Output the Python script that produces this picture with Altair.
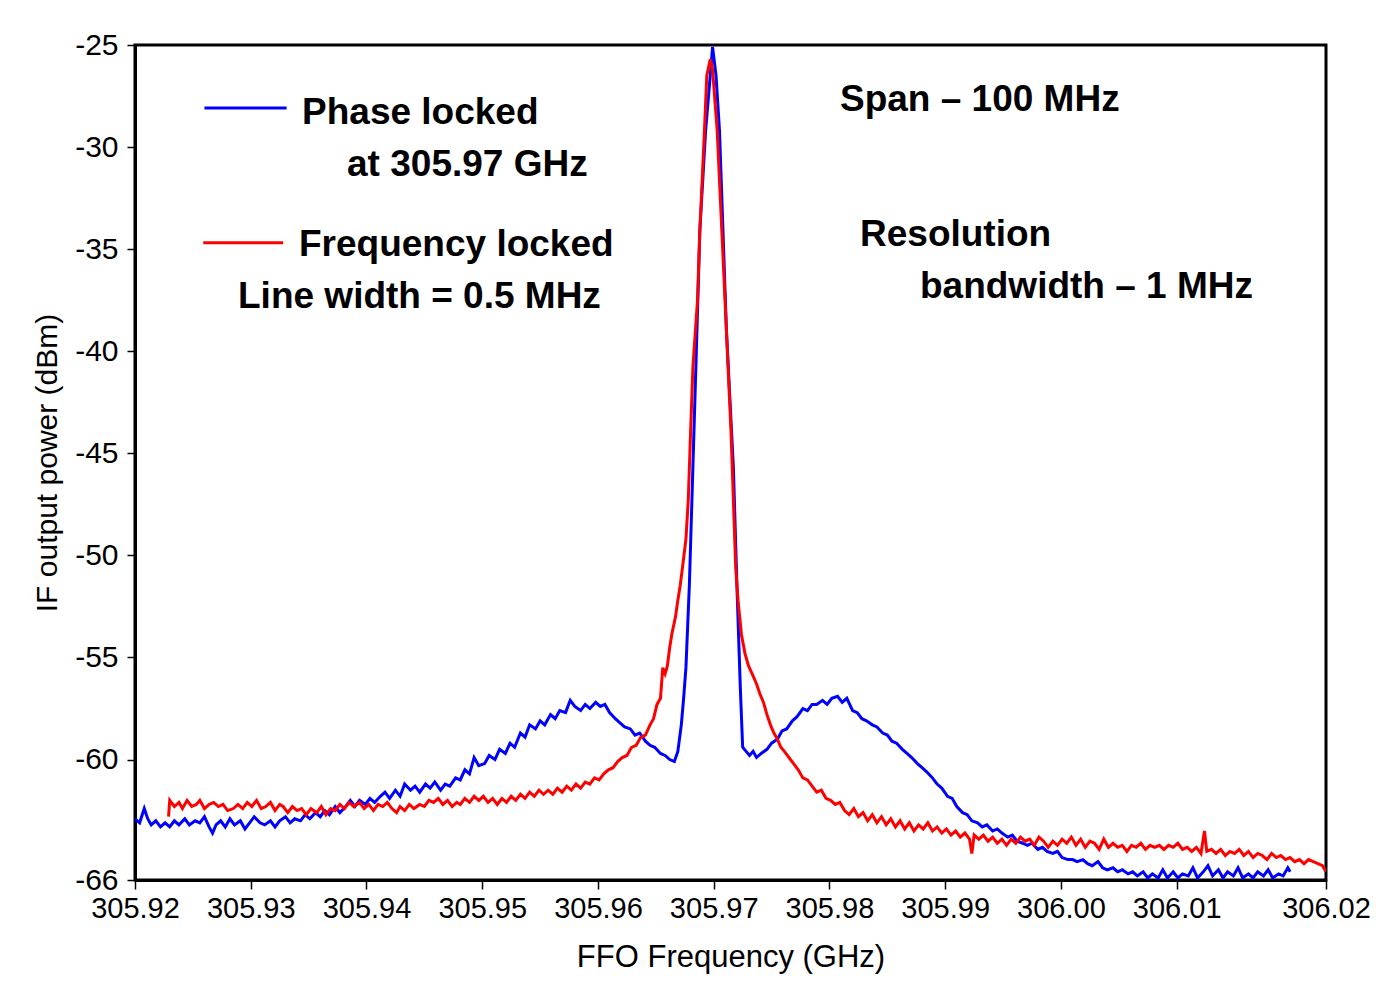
import altair as alt
import pandas as pd

# ---- Phase locked (blue) trace: frequency (GHz), power (dBm)
blue_f = [305.9200, 305.9204, 305.9208, 305.9211, 305.9214, 305.9218, 305.9222, 305.9226, 305.9230, 305.9234,
          305.9238, 305.9243, 305.9247, 305.9252, 305.9256, 305.9260, 305.9264, 305.9267, 305.9270, 305.9274,
          305.9278, 305.9282, 305.9286, 305.9291, 305.9295, 305.9299, 305.9303, 305.9308, 305.9312, 305.9317,
          305.9321, 305.9325, 305.9330, 305.9334, 305.9338, 305.9343, 305.9347, 305.9351, 305.9356, 305.9360,
          305.9364, 305.9368, 305.9373, 305.9377, 305.9382, 305.9386, 305.9390, 305.9394, 305.9399, 305.9403,
          305.9407, 305.9412, 305.9416, 305.9420, 305.9425, 305.9429, 305.9433, 305.9438, 305.9442, 305.9446,
          305.9451, 305.9455, 305.9459, 305.9464, 305.9468, 305.9472, 305.9477, 305.9481, 305.9485, 305.9489,
          305.9493, 305.9497, 305.9502, 305.9506, 305.9511, 305.9515, 305.9520, 305.9524, 305.9528, 305.9533,
          305.9537, 305.9541, 305.9546, 305.9550, 305.9554, 305.9559, 305.9563, 305.9567, 305.9572, 305.9576,
          305.9580, 305.9585, 305.9589, 305.9593, 305.9598, 305.9602, 305.9606, 305.9610, 305.9615, 305.9619,
          305.9623, 305.9628, 305.9632, 305.9636, 305.9641, 305.9645, 305.9649, 305.9654, 305.9658, 305.9662,
          305.9666, 305.9669, 305.9672, 305.9674, 305.9676, 305.9679, 305.9682, 305.9685, 305.9688, 305.9693,
          305.9697, 305.9699, 305.9702, 305.9705, 305.9708, 305.9711, 305.9717, 305.9720, 305.9723, 305.9725,
          305.9728, 305.9731, 305.9734, 305.9737, 305.9741, 305.9746, 305.9750, 305.9755, 305.9759, 305.9763,
          305.9768, 305.9772, 305.9777, 305.9781, 305.9785, 305.9789, 305.9794, 305.9798, 305.9802, 305.9807,
          305.9811, 305.9815, 305.9820, 305.9824, 305.9828, 305.9832, 305.9837, 305.9841, 305.9846, 305.9850,
          305.9854, 305.9858, 305.9863, 305.9867, 305.9871, 305.9876, 305.9880, 305.9884, 305.9889, 305.9893,
          305.9897, 305.9902, 305.9906, 305.9910, 305.9915, 305.9919, 305.9923, 305.9928, 305.9932, 305.9936,
          305.9941, 305.9945, 305.9949, 305.9954, 305.9958, 305.9962, 305.9967, 305.9971, 305.9975, 305.9980,
          305.9984, 305.9988, 305.9993, 305.9997, 306.0001, 306.0006, 306.0010, 306.0014, 306.0019, 306.0023,
          306.0027, 306.0032, 306.0036, 306.0040, 306.0045, 306.0049, 306.0053, 306.0058, 306.0062, 306.0066,
          306.0071, 306.0075, 306.0079, 306.0084, 306.0088, 306.0092, 306.0097, 306.0101, 306.0105, 306.0110,
          306.0114, 306.0118, 306.0123, 306.0127, 306.0131, 306.0136, 306.0140, 306.0144, 306.0149, 306.0153,
          306.0157, 306.0162, 306.0166, 306.0170, 306.0175, 306.0179, 306.0183, 306.0188, 306.0192, 306.0196,
          306.0198]
blue_p = [-62.9, -63.1, -62.4, -62.9, -63.2, -63.0, -63.3, -63.1, -63.3, -63.0,
          -63.2, -62.9, -63.2, -63.0, -63.1, -62.8, -63.3, -63.6, -63.2, -63.0,
          -63.3, -62.9, -63.2, -63.0, -63.4, -63.1, -62.8, -63.1, -63.2, -63.0,
          -63.3, -63.0, -62.8, -63.1, -62.9, -63.0, -62.7, -62.9, -62.6, -62.8,
          -62.5, -62.7, -62.3, -62.6, -62.3, -62.0, -62.3, -62.0, -62.2, -61.9,
          -62.1, -61.8, -61.6, -61.9, -61.5, -61.8, -61.2, -61.5, -61.3, -61.6,
          -61.2, -61.4, -61.1, -61.5, -61.2, -61.3, -60.9, -61.0, -60.5, -60.7,
          -59.9, -60.3, -60.2, -59.8, -60.0, -59.5, -59.7, -59.2, -59.4, -58.7,
          -58.9, -58.3, -58.5, -58.1, -58.3, -57.8, -58.0, -57.6, -57.7, -57.1,
          -57.4, -57.6, -57.3, -57.5, -57.2, -57.4, -57.3, -57.7, -58.0, -58.2,
          -58.4, -58.5, -58.8, -58.7, -59.1, -59.3, -59.4, -59.7, -59.8, -60.0,
          -60.1, -59.6, -58.3, -57.0, -55.5, -51.4, -45.7, -40.0, -34.1, -29.2,
          -26.5, -25.1, -26.5, -29.2, -34.1, -39.0, -45.7, -51.4, -56.5, -59.4,
          -59.6, -59.8, -59.6, -59.9, -59.7, -59.5, -59.2, -59.0, -58.6, -58.5,
          -58.1, -57.9, -57.5, -57.6, -57.3, -57.3, -57.1, -57.3, -57.0, -56.9,
          -57.2, -57.0, -57.6, -57.7, -58.0, -58.1, -58.3, -58.4, -58.7, -58.8,
          -59.1, -59.2, -59.5, -59.7, -59.9, -60.2, -60.4, -60.6, -60.9, -61.2,
          -61.4, -61.8, -61.9, -62.3, -62.6, -62.7, -63.0, -63.1, -63.3, -63.2,
          -63.5, -63.4, -63.6, -63.8, -63.7, -64.0, -64.1, -64.2, -64.1, -64.4,
          -64.3, -64.5, -64.6, -64.5, -64.8, -64.9, -64.9, -65.0, -64.9, -65.1,
          -65.2, -65.0, -65.3, -65.4, -65.3, -65.5, -65.4, -65.6, -65.5, -65.7,
          -65.5, -65.8, -65.6, -65.8, -65.4, -65.8, -65.5, -65.8, -65.6, -65.7,
          -65.3, -65.8, -65.5, -65.2, -65.7, -65.4, -65.8, -65.5, -65.7, -65.3,
          -65.8, -65.6, -65.8, -65.5, -65.7, -65.4, -65.8, -65.6, -65.7, -65.3,
          -65.5]

# ---- Frequency locked (red) trace
red_f = [305.9229, 305.9230, 305.9234, 305.9238, 305.9241, 305.9245, 305.9249, 305.9253, 305.9256, 305.9260,
         305.9264, 305.9268, 305.9272, 305.9276, 305.9280, 305.9285, 305.9289, 305.9293, 305.9297, 305.9301,
         305.9305, 305.9309, 305.9313, 305.9317, 305.9321, 305.9325, 305.9328, 305.9332, 305.9336, 305.9340,
         305.9344, 305.9348, 305.9352, 305.9357, 305.9361, 305.9365, 305.9369, 305.9373, 305.9377, 305.9381,
         305.9385, 305.9389, 305.9394, 305.9398, 305.9402, 305.9406, 305.9410, 305.9414, 305.9418, 305.9422,
         305.9426, 305.9429, 305.9433, 305.9437, 305.9441, 305.9446, 305.9450, 305.9454, 305.9458, 305.9462,
         305.9466, 305.9470, 305.9474, 305.9478, 305.9481, 305.9485, 305.9489, 305.9493, 305.9497, 305.9501,
         305.9505, 305.9509, 305.9513, 305.9517, 305.9521, 305.9525, 305.9529, 305.9533, 305.9537, 305.9541,
         305.9545, 305.9549, 305.9553, 305.9557, 305.9561, 305.9565, 305.9569, 305.9573, 305.9577, 305.9581,
         305.9585, 305.9589, 305.9593, 305.9597, 305.9601, 305.9605, 305.9609, 305.9613, 305.9617, 305.9621,
         305.9625, 305.9629, 305.9633, 305.9637, 305.9641, 305.9645, 305.9648, 305.9651, 305.9654, 305.9656,
         305.9658, 305.9660, 305.9662, 305.9664, 305.9667, 305.9669, 305.9671, 305.9673, 305.9676, 305.9678,
         305.9680, 305.9682, 305.9686, 305.9688, 305.9692, 305.9694, 305.9697, 305.9699, 305.9703, 305.9707,
         305.9711, 305.9715, 305.9717, 305.9719, 305.9721, 305.9724, 305.9727, 305.9730, 305.9734, 305.9737,
         305.9740, 305.9743, 305.9746, 305.9749, 305.9752, 305.9755, 305.9758, 305.9761, 305.9765, 305.9769,
         305.9773, 305.9777, 305.9781, 305.9785, 305.9789, 305.9793, 305.9797, 305.9801, 305.9805, 305.9809,
         305.9813, 305.9817, 305.9821, 305.9825, 305.9829, 305.9833, 305.9837, 305.9841, 305.9845, 305.9849,
         305.9853, 305.9857, 305.9861, 305.9865, 305.9869, 305.9873, 305.9877, 305.9881, 305.9885, 305.9889,
         305.9893, 305.9897, 305.9901, 305.9905, 305.9909, 305.9913, 305.9917, 305.9921, 305.9923, 305.9925,
         305.9929, 305.9933, 305.9937, 305.9941, 305.9945, 305.9949, 305.9953, 305.9957, 305.9961, 305.9965,
         305.9969, 305.9973, 305.9977, 305.9981, 305.9985, 305.9989, 305.9993, 305.9997, 306.0001, 306.0005,
         306.0009, 306.0013, 306.0017, 306.0021, 306.0025, 306.0029, 306.0033, 306.0037, 306.0041, 306.0045,
         306.0049, 306.0053, 306.0057, 306.0061, 306.0065, 306.0069, 306.0073, 306.0077, 306.0081, 306.0085,
         306.0089, 306.0093, 306.0097, 306.0101, 306.0105, 306.0109, 306.0113, 306.0117, 306.0121, 306.0124,
         306.0126, 306.0130, 306.0134, 306.0138, 306.0142, 306.0146, 306.0150, 306.0154, 306.0158, 306.0162,
         306.0166, 306.0170, 306.0174, 306.0178, 306.0182, 306.0186, 306.0190, 306.0194, 306.0198, 306.0202,
         306.0206, 306.0210, 306.0214, 306.0218, 306.0222, 306.0226, 306.0229]
red_p = [-62.8, -62.0, -62.3, -62.1, -62.4, -62.0, -62.3, -62.2, -62.0, -62.4,
         -62.2, -62.1, -62.3, -62.2, -62.5, -62.4, -62.2, -62.4, -62.1, -62.3,
         -62.0, -62.4, -62.3, -62.1, -62.5, -62.2, -62.3, -62.6, -62.3, -62.5,
         -62.4, -62.7, -62.4, -62.6, -62.3, -62.7, -62.4, -62.5, -62.2, -62.4,
         -62.1, -62.3, -62.1, -62.4, -62.2, -62.5, -62.2, -62.3, -62.1, -62.4,
         -62.6, -62.3, -62.5, -62.2, -62.4, -62.2, -62.3, -62.0, -62.1, -61.9,
         -62.2, -62.0, -62.3, -62.1, -62.2, -61.9, -62.1, -61.8, -62.0, -61.8,
         -62.1, -61.9, -62.2, -61.9, -62.1, -61.8, -62.0, -61.7, -61.9, -61.6,
         -61.8, -61.5, -61.7, -61.5, -61.7, -61.4, -61.6, -61.3, -61.5, -61.2,
         -61.4, -61.1, -61.2, -60.9, -61.0, -60.7, -60.5, -60.4, -60.1, -59.9,
         -59.8, -59.4, -59.3, -58.9, -58.8, -58.3, -58.0, -57.3, -57.0, -55.5,
         -55.8, -55.4, -54.5, -53.8, -53.0, -52.2, -51.5, -50.6, -49.2, -47.3,
         -44.0, -40.8, -37.5, -34.1, -29.2, -26.5, -25.7, -26.2, -29.2, -34.1,
         -39.0, -44.0, -47.3, -50.6, -52.2, -53.9, -54.8, -55.4, -55.9, -56.3,
         -56.8, -57.2, -57.8, -58.3, -58.7, -59.0, -59.4, -59.6, -59.9, -60.2,
         -60.5, -60.9, -61.0, -61.3, -61.6, -61.5, -61.9, -62.0, -62.2, -62.1,
         -62.5, -62.7, -62.4, -62.8, -62.6, -63.0, -62.7, -63.1, -62.8, -63.2,
         -62.9, -63.3, -63.0, -63.4, -63.1, -63.5, -63.2, -63.4, -63.1, -63.5,
         -63.3, -63.6, -63.4, -63.7, -63.5, -63.8, -63.6, -63.9, -64.6, -63.7,
         -63.9, -63.7, -64.0, -63.8, -64.1, -63.9, -64.2, -63.9, -64.1, -63.8,
         -64.0, -63.9, -64.2, -63.8, -64.0, -64.3, -64.0, -64.2, -63.9, -64.1,
         -63.8, -64.2, -63.9, -64.3, -64.0, -64.1, -64.4, -63.9, -64.3, -64.1,
         -64.3, -64.2, -64.5, -64.2, -64.3, -64.1, -64.4, -64.2, -64.3, -64.2,
         -64.4, -64.2, -64.3, -64.1, -64.4, -64.3, -64.5, -64.3, -64.6, -63.5,
         -64.5, -64.4, -64.6, -64.4, -64.7, -64.5, -64.6, -64.4, -64.7, -64.5,
         -64.8, -64.6, -64.7, -64.9, -64.6, -64.8, -64.7, -64.9, -64.8, -65.0,
         -64.9, -65.1, -64.9, -65.0, -65.1, -65.2, -65.5]

# ---- axes
x_ticks = [305.92, 305.93, 305.94, 305.95, 305.96, 305.97, 305.98, 305.99, 306.00, 306.01, 306.0229]
y_ticks = [-25, -30, -35, -40, -45, -50, -55, -60, -65.9]
x_domain = [305.92, 306.0229]
y_domain = [-65.9, -25]

# ---- annotations (data coordinates)
ann_text = ["Phase locked", "at 305.97 GHz", "Frequency locked", "Line width = 0.5 MHz",
            "Span \u2013 100 MHz", "Resolution", "bandwidth \u2013 1 MHz"]
ann_x = [305.93443, 305.93832, 305.93417, 305.92890, 305.98091, 305.98264, 305.98782]
ann_y = [-28.33, -30.87, -34.79, -37.33, -27.69, -34.30, -36.85]

leg_series = ["Phase locked", "Frequency locked"]
leg_x1 = [305.9260, 305.9259]
leg_x2 = [305.9331, 305.9328]
leg_y = [-28.08, -34.69]
leg_color = ["#0000ff", "#ff0000"]

FONT = "Liberation Sans"

blue_df = pd.DataFrame({"f": blue_f, "p": blue_p})
red_df = pd.DataFrame({"f": red_f, "p": red_p})
ann_df = pd.DataFrame({"t": ann_text, "x": ann_x, "y": ann_y})
leg_df = pd.DataFrame({"s": leg_series, "x1": leg_x1, "x2": leg_x2, "y": leg_y, "c": leg_color})

xscale = alt.Scale(domain=x_domain, nice=False, zero=False)
yscale = alt.Scale(domain=y_domain, nice=False, zero=False)

xaxis = alt.Axis(
    values=x_ticks, labelExpr="format(datum.value, '.2f')", title="FFO Frequency (GHz)",
    grid=False, tickSize=9, tickWidth=1.5, tickColor="black", domainColor="black", domainWidth=3,
    labelFont=FONT, labelFontSize=29, labelColor="black", labelPadding=5, labelFlush=False,
    titleFont=FONT, titleFontSize=31, titleFontWeight="normal", titleColor="black", titlePadding=19,
)
yaxis = alt.Axis(
    values=y_ticks, labelExpr="datum.value < -65 ? '-66' : '' + datum.value",
    title="IF output power (dBm)", grid=False, tickSize=8, tickWidth=1.5, tickColor="black",
    domainColor="black", domainWidth=3, labelFont=FONT, labelFontSize=30, labelColor="black",
    labelPadding=9, labelFlush=False,
    titleFont=FONT, titleFontSize=30, titleFontWeight="normal", titleColor="black", titlePadding=12,
)

blue = alt.Chart(blue_df).mark_line(color="#0000ff", strokeWidth=3, clip=True).encode(
    x=alt.X("f:Q", scale=xscale, axis=xaxis),
    y=alt.Y("p:Q", scale=yscale, axis=yaxis),
    order="f:Q",
)
red = alt.Chart(red_df).mark_line(color="#ff0000", strokeWidth=3, clip=True).encode(
    x=alt.X("f:Q", scale=xscale),
    y=alt.Y("p:Q", scale=yscale),
    order="f:Q",
)
legend_lines = alt.Chart(leg_df).mark_rule(strokeWidth=3).encode(
    x=alt.X("x1:Q", scale=xscale),
    x2="x2:Q",
    y=alt.Y("y:Q", scale=yscale),
    color=alt.Color("c:N", scale=None),
)
labels = alt.Chart(ann_df).mark_text(
    align="left", baseline="middle", font=FONT, fontSize=37, fontWeight="bold", color="black"
).encode(
    x=alt.X("x:Q", scale=xscale),
    y=alt.Y("y:Q", scale=yscale),
    text="t:N",
)

chart = alt.layer(blue, red, legend_lines, labels).properties(
    width=1191, height=835,
    autosize=alt.AutoSizeParams(type="none"),
    padding={"left": 127, "top": 37, "right": 46, "bottom": 95},
    background="white",
).configure_view(stroke="black", strokeWidth=3, fill="white")

chart.save("out.html", embed_options={"renderer": "svg", "actions": False})
